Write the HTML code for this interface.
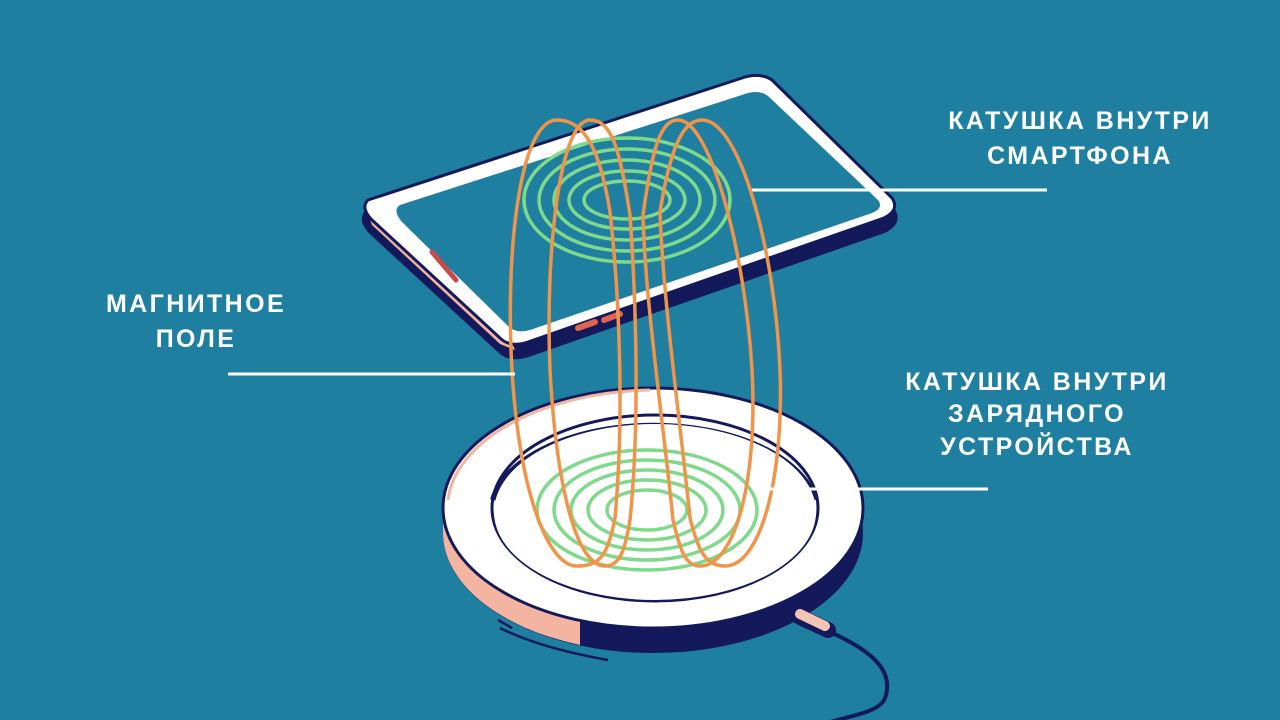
<!DOCTYPE html>
<html><head><meta charset="utf-8"><style>
html,body{margin:0;padding:0;background:#1e7fa0;}
svg{display:block}
text{font-family:"Liberation Sans",sans-serif;font-weight:bold;fill:#fff;font-size:25px;letter-spacing:2.4px}
</style></head><body>
<svg width="1280" height="720" viewBox="0 0 1280 720">
<rect width="1280" height="720" fill="#1e7fa0"/>
<!-- phone -->
<path d="M368,212 L742,88 Q760,82 772,90 L892,210 Q900,222 884,230 L528,354 Q510,360 500,350 L372,232 Q360,220 368,212Z" fill="#13195b" stroke="#13195b" stroke-width="6" stroke-linejoin="round"/>
<path d="M366,208 L372,225 L500,344 L515,350 L510,338 Z" fill="#f3b5a2"/>
<path d="M368,200 L742,78 Q760,72 772,80 L892,198 Q900,210 884,218 L528,342 Q510,348 500,338 L372,220 Q360,208 368,200Z" fill="#fff" stroke="#13195b" stroke-width="3" stroke-linejoin="round"/>
<path d="M400,205 L748,93 Q760,90 768,96 L878,200 Q884,208 872,213 L530,330 Q516,334 508,326 L402,222 Q392,210 400,205Z" fill="#1e7fa0"/>
<line x1="432" y1="252" x2="456" y2="280" stroke="#c94a4a" stroke-width="5" stroke-linecap="round"/>
<line x1="578" y1="328" x2="595" y2="322" stroke="#e2644f" stroke-width="6" stroke-linecap="round"/>
<line x1="604" y1="320" x2="620" y2="314" stroke="#e2644f" stroke-width="6" stroke-linecap="round"/>
<!-- top coil -->
<g fill="none" stroke="#7ed98a" stroke-width="3.5">
<ellipse cx="627" cy="200" rx="103" ry="62"/>
<ellipse cx="627" cy="200" rx="88" ry="51"/>
<ellipse cx="627" cy="200" rx="73" ry="40"/>
<ellipse cx="627" cy="200" rx="58" ry="29"/>
<ellipse cx="627" cy="200" rx="43" ry="19"/>
</g>
<line x1="750" y1="190" x2="1047" y2="190" stroke="#fff" stroke-width="3"/>
<!-- charger -->
<ellipse cx="653" cy="533" rx="210" ry="120" fill="#13195b"/>
<path d="M443,508 L443,533 A210,120 0 0 0 580,645 L580,620 A210,120 0 0 1 443,508Z" fill="#f3b5a2"/>
<ellipse cx="653" cy="508" rx="210" ry="120" fill="#fff" stroke="#13195b" stroke-width="3"/>
<path d="M448,500 A210,118 0 0 1 650,390" fill="none" stroke="#f3b5a2" stroke-width="3"/>
<ellipse cx="655" cy="508" rx="163" ry="93" fill="#fff" stroke="#13195b" stroke-width="3"/>
<path d="M493,500 A163,88 0 0 1 815,500" fill="none" stroke="#13195b" stroke-width="6"/>
<ellipse cx="655" cy="512" rx="161" ry="88" fill="#fff"/>
<g fill="none" stroke="#7ed98a" stroke-width="3.5">
<ellipse cx="647" cy="510" rx="110" ry="60"/>
<ellipse cx="647" cy="510" rx="93" ry="50"/>
<ellipse cx="647" cy="510" rx="76" ry="40"/>
<ellipse cx="647" cy="510" rx="59" ry="30"/>
<ellipse cx="647" cy="510" rx="40" ry="20"/>
</g>
<!-- cable -->
<path d="M830,632 C870,650 895,670 885,698 C880,712 850,716 830,722" fill="none" stroke="#13195b" stroke-width="4"/>
<path d="M800,617 L828,630" stroke="#13195b" stroke-width="16" stroke-linecap="round"/>
<path d="M800,614 L825,626" stroke="#f3c3b3" stroke-width="10" stroke-linecap="round"/>
<path d="M500,628 Q540,648 608,660" fill="none" stroke="#13195b" stroke-width="2.5"/>
<path d="M498,620 L512,628" stroke="#13195b" stroke-width="2.5"/>
<!-- field lines -->
<g fill="none" stroke="#f0944a" stroke-width="3.5">
<path d="M610,212 C600,150 585,120 557,120 C520,120 505,250 512,370 C518,480 545,566 577,566 C600,566 608,555 615,518 C624,420 620,300 610,212"/>
<path d="M630,215 C620,150 612,120 590,120 C560,120 545,250 550,370 C556,480 575,566 605,566 C620,566 625,550 630,520 C640,420 636,300 630,215"/>
<path d="M643,215 C652,150 660,120 678,120 C710,120 745,250 752,370 C758,480 735,566 700,566 C685,566 680,550 673,520 C663,420 645,300 643,215"/>
<path d="M660,212 C670,150 682,120 702,120 C740,120 775,250 780,370 C784,480 760,566 725,566 C705,566 698,550 690,518 C680,420 663,300 660,212"/>
</g>
<!-- leader lines -->
<line x1="228" y1="374" x2="515" y2="374" stroke="#fff" stroke-width="3"/>
<line x1="760" y1="489" x2="988" y2="489" stroke="#fff" stroke-width="3"/>
<!-- labels -->
<text x="1080" y="129" text-anchor="middle">КАТУШКА ВНУТРИ</text>
<text x="1080" y="164" text-anchor="middle">СМАРТФОНА</text>
<text x="196" y="312" text-anchor="middle">МАГНИТНОЕ</text>
<text x="196" y="347" text-anchor="middle">ПОЛЕ</text>
<text x="1037" y="390" text-anchor="middle">КАТУШКА ВНУТРИ</text>
<text x="1037" y="422" text-anchor="middle">ЗАРЯДНОГО</text>
<text x="1037" y="455" text-anchor="middle">УСТРОЙСТВА</text>
</svg>
</body></html>
